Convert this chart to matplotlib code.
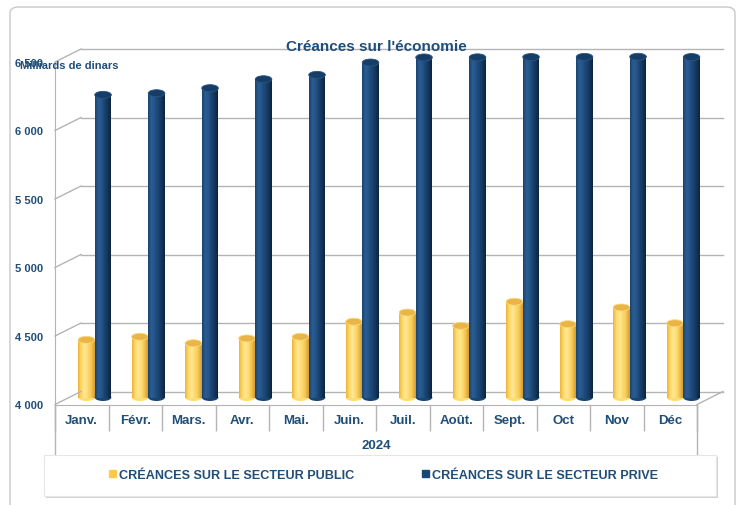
import numpy as np
import matplotlib
matplotlib.use('Agg')
import matplotlib.pyplot as plt
from matplotlib.patches import Ellipse, Patch, FancyBboxPatch, Rectangle
from matplotlib.lines import Line2D
from matplotlib.transforms import offset_copy, IdentityTransform
from matplotlib.colors import LinearSegmentedColormap

# data (milliards de dinars)
months = ['Janv.', 'Févr.', 'Mars.', 'Avr.', 'Mai.', 'Juin.', 'Juil.', 'Août.',
          'Sept.', 'Oct', 'Nov', 'Déc']
year = '2024'
public = [4421, 4443, 4396, 4431, 4443, 4553, 4620, 4523, 4699, 4535, 4657, 4542]
private = [6209, 6221, 6258, 6323, 6355, 6445, 6482, 6483, 6485, 6486, 6487, 6485]
series_names = ['CRÉANCES SUR LE SECTEUR PUBLIC', 'CRÉANCES SUR LE SECTEUR PRIVE']
yticks = [4000, 4500, 5000, 5500, 6000, 6500]
ytick_labels = ['4 000', '4 500', '5 000', '5 500', '6 000', '6 500']

W, H = 740, 506
DX, DY = 26, 13          # depth of the 3D box (pixels)
TXT = '#1F4E79'
GRID = '#B4B4B4'

plt.rcParams['font.family'] = ['Liberation Sans', 'DejaVu Sans']
plt.rcParams['font.weight'] = 'bold'

fig = plt.figure(figsize=(W / 100, H / 100), dpi=100)


def frac(x0, y0, x1, y1):
    """pixel box (top-left origin) -> figure fraction rect"""
    return [x0 / W, 1 - y1 / H, (x1 - x0) / W, (y1 - y0) / H]


# card border
fig.add_artist(FancyBboxPatch((10 / W, -0.05), 725 / W, 1 - 8 / H + 0.05,
                              boxstyle='round,pad=0,rounding_size=0.012',
                              transform=fig.transFigure, fc='white',
                              ec='#C8C8C8', lw=1, zorder=-5))

# back wall (gridlines)
ax = fig.add_axes(frac(81, 50, 723, 392.5))
ax.set_xlim(-0.5, 11.5)
ax.set_ylim(4000, 6500)
ax.set_facecolor('none')
ax.set_yticks(yticks)
ax.yaxis.grid(True, color=GRID, lw=1, clip_on=False)
ax.set_axisbelow(True)
ax.tick_params(left=False, bottom=False, labelleft=False, labelbottom=False)
for s in ax.spines.values():
    s.set_visible(False)

# front plane (axis labels)
axf = fig.add_axes(frac(81 - DX, 50 + DY, 723 - DX, 392.5 + DY))
axf.set_xlim(-0.5, 11.5)
axf.set_ylim(4000, 6500)
axf.set_facecolor('none')
for side in ['top', 'right']:
    axf.spines[side].set_visible(False)
for side in ['left', 'bottom']:
    axf.spines[side].set_color(GRID)
axf.set_yticks(yticks)
axf.set_yticklabels(ytick_labels)
axf.tick_params(axis='y', length=0, pad=8.6, labelsize=8, labelcolor=TXT)
x = np.arange(len(months))
axf.set_xticks(x)
axf.set_xticklabels(months)
axf.tick_params(axis='x', which='major', length=0, pad=7, labelsize=9.5, labelcolor=TXT)
axf.set_xticks(np.arange(-0.5, 12, 1), minor=True)
axf.tick_params(axis='x', which='minor', length=18.5, width=1, color=GRID, direction='out')
for xb in [-0.5, 11.5]:
    axf.add_line(Line2D([xb, xb], [0, -0.146], transform=axf.get_xaxis_transform(),
                        color=GRID, lw=1, clip_on=False))

# side wall / floor diagonals
for v in yticks:
    p1 = axf.transData.transform((-0.5, v))
    p2 = ax.transData.transform((-0.5, v))
    fig.add_artist(Line2D([p1[0], p2[0]], [p1[1], p2[1]], transform=IdentityTransform(),
                          color=GRID, lw=1))
p1 = axf.transData.transform((11.5, 4000))
p2 = ax.transData.transform((11.5, 4000))
fig.add_artist(Line2D([p1[0], p2[0]], [p1[1], p2[1]], transform=IdentityTransform(),
                      color=GRID, lw=1))

# cylinders, placed at mid depth
tb = offset_copy(ax.transData, fig=fig, x=-DX / 2, y=-6, units='dots')
w = 0.31
N = 16
ell_h = 7 / (342.5 / 2500)
yellow_cmap = LinearSegmentedColormap.from_list(
    'y', ['#EDB940', '#FFD966', '#FFE697', '#FFDC70', '#F2C250', '#D6A033'])
blue_cmap = LinearSegmentedColormap.from_list(
    'b', ['#1A4673', '#2B5C90', '#24548A', '#1A4470', '#12365C', '#0C2540'])
series = [
    (public, -0.155, yellow_cmap, '#E9B448', '#FBD978', 3),
    (private, 0.155, blue_cmap, '#163D66', '#2A5585', 3.5),
]
for vals, shift, cmap, top_col, rim_col, z in series:
    vals = np.array(vals)
    for k in range(N):
        xs = x + shift - w / 2 + (k + 0.5) * w / N
        ax.bar(xs, vals - 4000, bottom=4000, width=w / N * 1.1, color=cmap(k / (N - 1)),
               lw=0, transform=tb, clip_on=False, zorder=z)
    for xi, v in zip(x, vals):
        ax.add_patch(Ellipse((xi + shift, 4000), w, ell_h, transform=tb,
                             fc=cmap(0.6), lw=0, clip_on=False, zorder=z - 0.05))
        ax.add_patch(Ellipse((xi + shift, v), w, ell_h, transform=tb,
                             fc=top_col, ec=rim_col, lw=0.6, clip_on=False, zorder=z + 0.05))

# texts
fig.text(376 / W, 1 - 47 / H, "Créances sur l'économie", ha='center', va='center',
         fontsize=11, color=TXT)
fig.text(20 / W, 1 - 66 / H, 'Milliards de dinars', ha='left', va='center',
         fontsize=8, color=TXT)
fig.text(376 / W, 1 - 446 / H, year, ha='center', va='center', fontsize=9.5, color=TXT)

# legend box with shadow
fig.add_artist(Rectangle((45.5 / W, 1 - 499 / H), 672 / W, 41 / H, transform=fig.transFigure,
                         fc='#D2D2D2', ec='none', zorder=1))
fig.add_artist(Rectangle((44 / W, 1 - 497 / H), 672 / W, 41 / H, transform=fig.transFigure,
                         fc='white', ec='#E6E6E6', lw=0.8, zorder=1.1))
handles = [Patch(color='#FFC94D'), Patch(color='#1A4673')]
leg = fig.legend(handles=handles, labels=series_names, loc='center',
                 bbox_to_anchor=(383.5 / W, 1 - 476 / H), ncol=2, frameon=False,
                 fontsize=9.1, handlelength=0.55, handleheight=0.55, handletextpad=0.3,
                 columnspacing=5.3, labelcolor=TXT)
leg.set_zorder(2)

fig.savefig('out.png', dpi=100)
